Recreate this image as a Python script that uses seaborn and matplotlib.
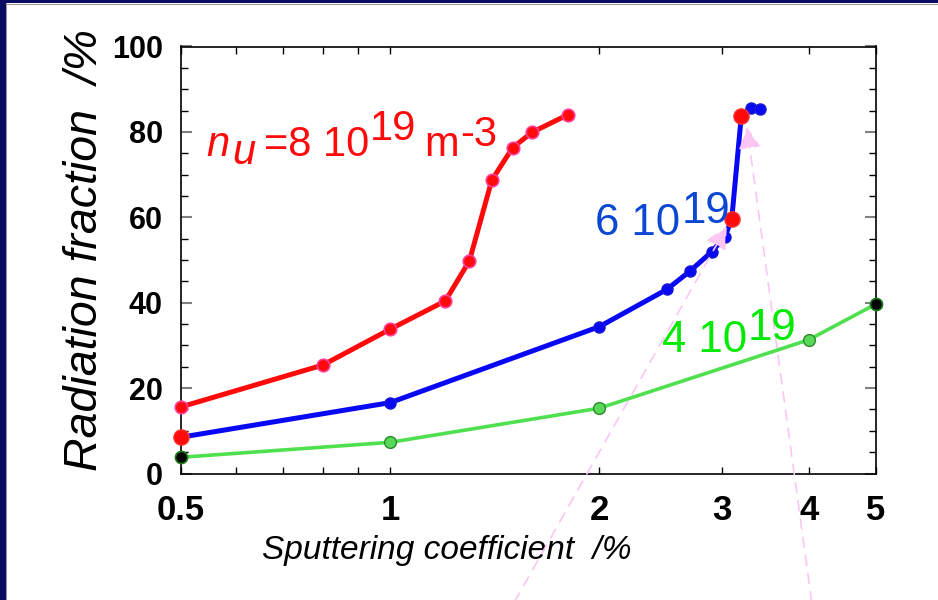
import matplotlib
matplotlib.use("Agg")
import matplotlib.pyplot as plt
import matplotlib.transforms as mtransforms
from matplotlib.patches import Rectangle
from matplotlib.lines import Line2D
from matplotlib.ticker import NullFormatter
import seaborn as sns

# ---- data -------------------------------------------------------------
red_x = [0.5, 0.8, 1.0, 1.2, 1.3, 1.4, 1.5, 1.6, 1.8]
red_y = [15.6, 25.4, 33.8, 40.4, 49.8, 68.7, 76.3, 79.9, 84.0]

blue_x = [0.5, 1.0, 2.0, 2.5, 2.7, 2.9, 3.03, 3.1, 3.2, 3.3, 3.4]
blue_y = [8.5, 16.6, 34.4, 43.1, 47.4, 51.9, 55.4, 59.5, 83.7, 85.5, 85.4]
blue_red_idx = [0, 7, 8]          # points shown with a red face

green_x = [0.5, 1.0, 2.0, 4.0, 5.0]
green_y = [3.8, 7.3, 15.3, 31.3, 39.7]
green_black_idx = [0, 4]          # points shown with a black face

x_ticks = [0.5, 1, 2, 3, 4, 5]
x_tick_labels = ["0.5", "1", "2", "3", "4", "5"]
x_minor = [0.6, 0.7, 0.8, 0.9]
y_ticks = [0, 20, 40, 60, 80, 100]
y_tick_labels = ["0", "20", "40", "60", "80", "100"]
y_minor = [v for v in range(0, 101, 5) if v % 20]

# arrows: (start, tip) in data units
arrows = [((1.51, -30.0), (3.05, 57.8)),
          ((4.04, -30.0), (3.26, 81.2))]

# ---- style ------------------------------------------------------------
sns.set_style("white")
plt.rcParams["font.family"] = ["Liberation Sans", "DejaVu Sans"]
plt.rcParams["text.color"] = "black"
plt.rcParams["axes.labelcolor"] = "black"
plt.rcParams["xtick.labelcolor"] = "black"
plt.rcParams["ytick.labelcolor"] = "black"

RED = "#ff0a0a"
BLUE = "#0808f5"
GREEN = "#4fe04f"
PINK = "#fbc6f4"
NAVY = "#0b0b64"

fig = plt.figure(figsize=(9.38, 6.0), dpi=100)
fig.patch.set_facecolor("white")
ax = fig.add_axes([181 / 938, 1 - 473.5 / 600, 695 / 938, 427 / 600])
ax.set_facecolor("white")

# ---- series -----------------------------------------------------------
sns.lineplot(x=red_x, y=red_y, sort=False, estimator=None, ax=ax, color=RED,
             lw=3.6, marker="o", markersize=9, markerfacecolor=RED,
             markeredgecolor="#ff3d9a", markeredgewidth=1.2, clip_on=False, zorder=3)
sns.lineplot(x=blue_x, y=blue_y, sort=False, estimator=None, ax=ax, color=BLUE,
             lw=3.6, marker="o", markersize=8, markerfacecolor=BLUE,
             markeredgecolor="#1a1ad0", markeredgewidth=1.0, clip_on=False, zorder=3)
sns.lineplot(x=green_x, y=green_y, sort=False, estimator=None, ax=ax, color=GREEN,
             lw=2.6, marker="o", markersize=8.5, markerfacecolor="#58d858",
             markeredgecolor="#2a8a2a", markeredgewidth=1.0, clip_on=False, zorder=3)

sns.scatterplot(x=[blue_x[i] for i in blue_red_idx], y=[blue_y[i] for i in blue_red_idx],
                ax=ax, color=RED, s=120, edgecolor="#ff3030", linewidth=1.0,
                clip_on=False, zorder=4, legend=False)
sns.scatterplot(x=[green_x[i] for i in green_black_idx], y=[green_y[i] for i in green_black_idx],
                ax=ax, color="black", s=75, edgecolor="#1c7a1c", linewidth=1.2,
                clip_on=False, zorder=4, legend=False)

# ---- axes -------------------------------------------------------------
ax.set_xscale("log")
ax.set_xlim(0.5, 5)
ax.set_ylim(0, 100)
ax.set_xticks(x_ticks, labels=x_tick_labels)
ax.set_xticks(x_minor, minor=True)
ax.xaxis.set_minor_formatter(NullFormatter())
ax.set_yticks(y_ticks, labels=y_tick_labels)
ax.set_yticks(y_minor, minor=True)

ax.tick_params(axis="x", which="both", direction="in", top=True, bottom=True,
               length=5, width=1, color="black", labelcolor="black", pad=15, labelsize=25)
ax.tick_params(axis="y", which="major", direction="in", left=True, right=True,
               length=8, width=1.5, color="#808080", labelcolor="black", pad=13, labelsize=22)
ax.tick_params(axis="y", which="minor", direction="in", left=True, right=True,
               length=5, width=1, color="black")
for lab in ax.get_xticklabels() + ax.get_yticklabels():
    lab.set_fontweight("bold")
for sp in ax.spines.values():
    sp.set_visible(True)
    sp.set_color("black")
    sp.set_linewidth(1.2)

ax.set_xlabel("Sputtering coefficient  /%", style="italic", fontsize=24, color="black")
ax.xaxis.set_label_coords(0.383, -0.143)
ax.set_ylabel("Radiation fraction  /%", style="italic", fontsize=33.5, color="black")
ax.yaxis.set_label_coords(-0.106, 0.523)

# ---- series labels ----------------------------------------------------
renderer = fig.canvas.get_renderer()


def chained_text(x, y, pieces, color, size):
    """Write text pieces one after another; each piece may be raised/lowered."""
    dx = 0.0
    for s, dy, style, gap in pieces:
        dx += gap
        tr = mtransforms.offset_copy(ax.transAxes, fig=fig, x=dx, y=dy, units="dots")
        t = ax.text(x, y, s, transform=tr, color=color, fontsize=size, style=style,
                    ha="left", va="baseline", zorder=6)
        dx += t.get_window_extent(renderer).width


chained_text(0.037, 0.744,
             [("n", 0, "italic", 0), ("u", -8, "italic", 2),
              ("=8 10", 0, "normal", 9), ("19", 16, "normal", 1),
              ("m", 0, "normal", 8), ("-3", 10, "normal", 1)],
             RED, 30)
chained_text(0.596, 0.559,
             [("6 10", 0, "normal", 0), ("19", 12, "normal", 1)],
             "#0a48d4", 31.5)
chained_text(0.692, 0.285,
             [("4 10", 0, "normal", 0), ("19", 12, "normal", 1)],
             "#00ea00", 31.5)

# ---- dashed pointers --------------------------------------------------
for start, tip in arrows:
    ax.annotate("", xy=tip, xytext=start, xycoords="data", textcoords="data",
                annotation_clip=False, zorder=5,
                arrowprops=dict(arrowstyle="-|>,head_length=1.35,head_width=0.68",
                                mutation_scale=10, color=PINK, lw=1.2,
                                linestyle=(0, (6, 5)), shrinkA=0, shrinkB=0))

# ---- slide frame ------------------------------------------------------
fig.patches.append(Rectangle((0, 0), 5.5 / 938, 1, transform=fig.transFigure,
                             facecolor=NAVY, edgecolor="none", zorder=10))
fig.patches.append(Rectangle((0, 1 - 3 / 600), 1, 3 / 600, transform=fig.transFigure,
                             facecolor=NAVY, edgecolor="none", zorder=10))
fig.lines.append(Line2D([6 / 938, 6 / 938], [0, 1 - 3 / 600], transform=fig.transFigure,
                        color="#9a9a9a", lw=0.8, zorder=10))
fig.lines.append(Line2D([6 / 938, 1], [1 - 3.5 / 600, 1 - 3.5 / 600], transform=fig.transFigure,
                        color="#9a9a9a", lw=0.8, zorder=10))

fig.savefig("out.png", dpi=100, facecolor="white")
